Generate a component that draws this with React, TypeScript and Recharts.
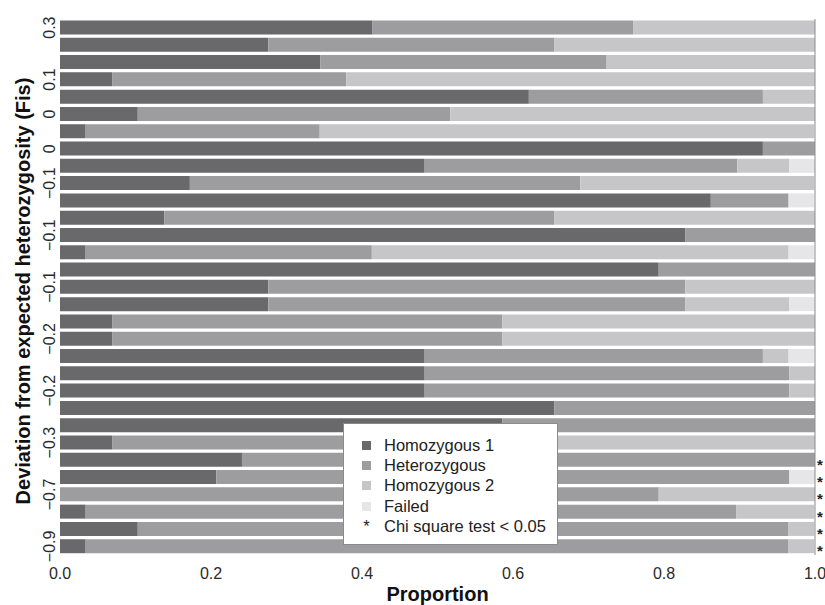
import { BarChart, Bar, XAxis, YAxis, Legend, LabelList, ReferenceLine } from "recharts";

// one entry per marker row, top to bottom
const rowLabels = [
  "0.3", "", "", "0.1", "", "0", "", "0", "", "\u22120.1", "", "",
  "\u22120.1", "", "", "\u22120.1", "", "", "\u22120.2", "", "", "\u22120.2",
  "", "", "\u22120.3", "", "", "\u22120.7", "", "", "\u22120.9",
];

const hom1 = [
  0.414, 0.276, 0.345, 0.069, 0.621, 0.103, 0.034, 0.931, 0.483, 0.172, 0.862,
  0.138, 0.828, 0.034, 0.793, 0.276, 0.276, 0.069, 0.069, 0.483, 0.483, 0.483,
  0.655, 0.586, 0.069, 0.241, 0.207, 0, 0.034, 0.103, 0.034,
];
const het = [
  0.345, 0.379, 0.379, 0.31, 0.31, 0.414, 0.31, 0.069, 0.414, 0.517, 0.103,
  0.517, 0.172, 0.379, 0.207, 0.552, 0.552, 0.517, 0.517, 0.448, 0.483, 0.483,
  0.345, 0.414, 0.448, 0.759, 0.759, 0.793, 0.862, 0.862, 0.931,
];
const hom2 = [
  0.241, 0.345, 0.276, 0.621, 0.069, 0.483, 0.655, 0, 0.069, 0.31, 0, 0.345, 0,
  0.552, 0, 0.172, 0.138, 0.414, 0.414, 0.034, 0.034, 0.034, 0, 0, 0.483, 0, 0,
  0.207, 0.103, 0.034, 0.034,
];
const failed = [
  0, 0, 0, 0, 0, 0, 0, 0, 0.034, 0, 0.034, 0, 0, 0.034, 0, 0, 0.034, 0, 0, 0.034,
  0, 0, 0, 0, 0, 0, 0.034, 0, 0, 0, 0,
];
// chi square test < 0.05
const chiSig = [
  false, false, false, false, false, false, false, false, false, false, false,
  false, false, false, false, false, false, false, false, false, false, false,
  false, false, false, true, true, true, true, true, true,
];
const xTicks = [0, 0.2, 0.4, 0.6, 0.8, 1.0];

const SERIES = [
  { key: "hom1", name: "Homozygous 1", color: "#69696b" },
  { key: "het", name: "Heterozygous", color: "#9d9d9f" },
  { key: "hom2", name: "Homozygous 2", color: "#c6c6c8" },
  { key: "failed", name: "Failed", color: "#e6e6e8" },
];

const FONT = "'Liberation Sans', Arial, Helvetica, sans-serif";

const data = rowLabels.map((label, i) => ({
  row: i,
  label,
  hom1: hom1[i],
  het: het[i],
  hom2: hom2[i],
  failed: failed[i],
  sig: chiSig[i] ? "*" : "",
}));

function YTick(props: any) {
  const { x, y, payload } = props;
  const text = rowLabels[payload.value];
  if (!text) return null;
  return (
    <text
      x={x - 5}
      y={y}
      transform={`rotate(-90, ${x - 5}, ${y})`}
      textAnchor="middle"
      fontSize={16}
      fontFamily={FONT}
      fill="#2a2a2a"
    >
      {text}
    </text>
  );
}

function XTick(props: any) {
  const { x, y, payload } = props;
  return (
    <text x={x} y={y + 24} textAnchor="middle" fontSize={16} fontFamily={FONT} fill="#2a2a2a">
      {Number(payload.value).toFixed(1)}
    </text>
  );
}

function LegendBox() {
  return (
    <div
      style={{
        width: 215,
        height: 122,
        boxSizing: "border-box",
        border: "1px solid #8a8a8a",
        background: "#fff",
        paddingTop: 11,
        fontFamily: FONT,
        fontSize: 16.5,
        color: "#222",
      }}
    >
      {SERIES.map((s) => (
        <div key={s.key} style={{ display: "flex", alignItems: "center", height: 20.4 }}>
          <span
            style={{ width: 9, height: 9, background: s.color, marginLeft: 18, marginRight: 13 }}
          />
          <span>{s.name}</span>
        </div>
      ))}
      <div style={{ display: "flex", alignItems: "center", height: 20.4 }}>
        <span style={{ width: 9, marginLeft: 18, marginRight: 13, textAlign: "center" }}>*</span>
        <span>Chi square test &lt; 0.05</span>
      </div>
    </div>
  );
}

// drawn off the heterozygous segment (never empty on flagged rows):
// its pixel width / value gives the scale, so the row end is found from it
function Asterisk(props: any) {
  const { x, y, width, height, index } = props;
  const d = data[index];
  if (!d || !d.sig || !d.het) return null;
  const perUnit = width / d.het;
  const end = x - d.hom1 * perUnit + perUnit;
  return (
    <text
      x={end + 2}
      y={y + height / 2 + 10}
      fontSize={15}
      fontWeight="bold"
      fontFamily={FONT}
      fill="#222"
    >
      {d.sig}
    </text>
  );
}

export default function App() {
  return (
    <div style={{ position: "absolute", left: 0, top: 0, width: 825, height: 605, background: "#fff" }}>
      <BarChart
        width={825}
        height={605}
        data={data}
        layout="vertical"
        margin={{ top: 19, right: 10, bottom: 0, left: 0 }}
        barCategoryGap={1.5}
      >
        <XAxis
          type="number"
          domain={[0, 1]}
          allowDataOverflow
          ticks={xTicks}
          tick={<XTick />}
          axisLine={false}
          tickLine={false}
          tickSize={0}
          tickMargin={0}
          height={50}
          label={{
            content: (p: any) => (
              <text
                x={p.viewBox.x + p.viewBox.width / 2}
                y={p.viewBox.y + 46}
                textAnchor="middle"
                fontSize={20}
                fontWeight="bold"
                fontFamily={FONT}
                fill="#111"
              >
                Proportion
              </text>
            ),
          }}
        />
        <YAxis
          type="category"
          dataKey="row"
          tick={<YTick />}
          interval={0}
          axisLine={false}
          tickLine={false}
          tickSize={0}
          tickMargin={0}
          width={60}
          label={{
            content: (p: any) => {
              const cx = p.viewBox.x + 30;
              const cy = p.viewBox.y + p.viewBox.height / 2 + 4;
              return (
                <text
                  x={cx}
                  y={cy}
                  transform={`rotate(-90, ${cx}, ${cy})`}
                  textAnchor="middle"
                  fontSize={20}
                  fontWeight="bold"
                  fontFamily={FONT}
                  fill="#111"
                >
                  Deviation from expected heterozygosity (Fis)
                </text>
              );
            },
          }}
        />
        {SERIES.map((s) => (
          <Bar
            key={s.key}
            dataKey={s.key}
            name={s.name}
            stackId="a"
            fill={s.color}
            isAnimationActive={false}
          >
            {s.key === "het" && <LabelList dataKey="sig" content={<Asterisk />} />}
          </Bar>
        ))}
        <ReferenceLine x={1} stroke="#8c8c8c" />
        <Legend
          layout="vertical"
          align="center"
          verticalAlign="middle"
          content={() => <LegendBox />}
          wrapperStyle={{ left: 343, top: 423, width: 215, height: 122 }}
        />
      </BarChart>
    </div>
  );
}
